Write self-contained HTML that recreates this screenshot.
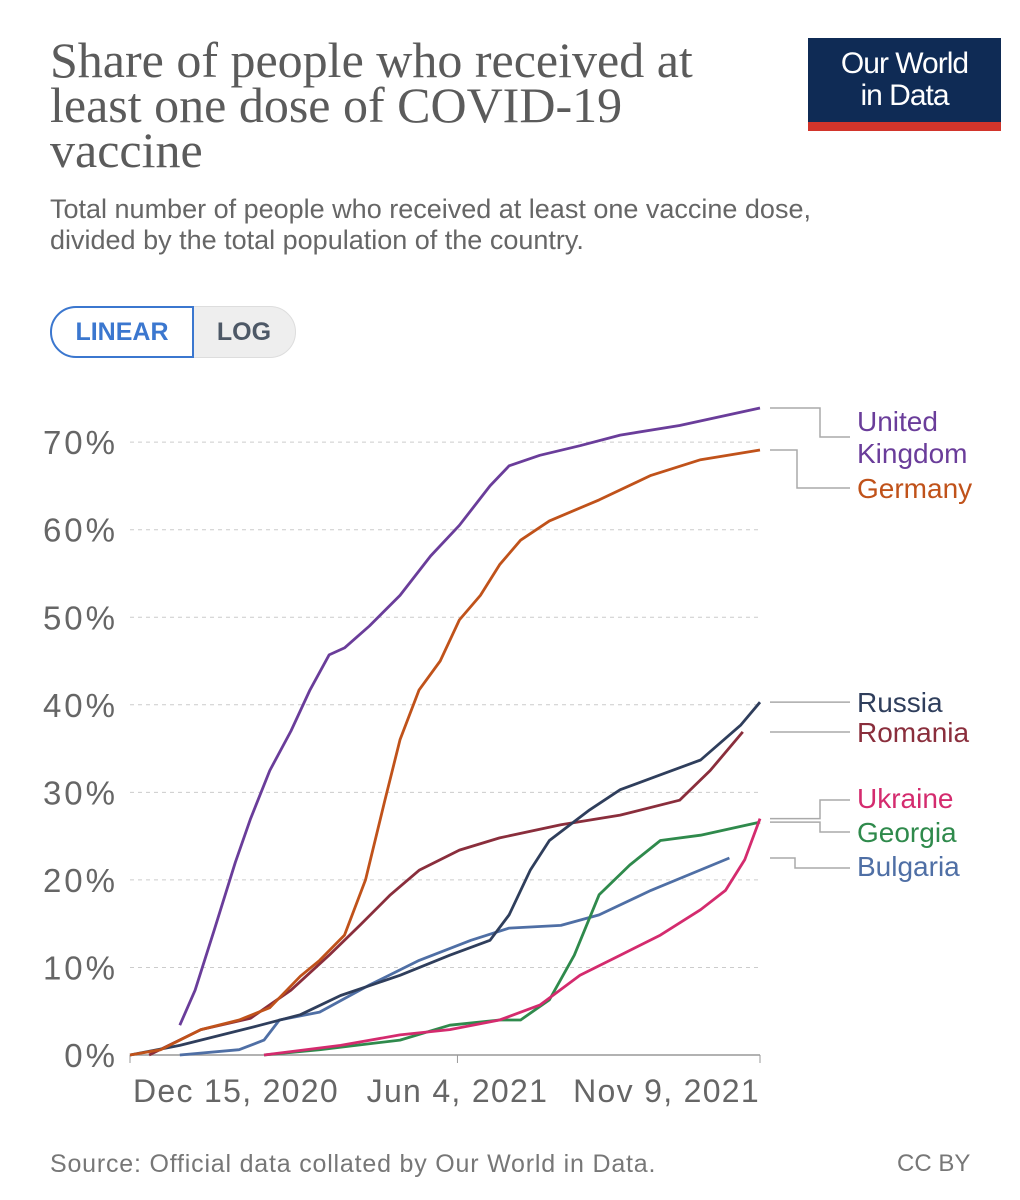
<!DOCTYPE html>
<html><head><meta charset="utf-8">
<style>
body{margin:0;background:#fff;width:1020px;height:1200px;overflow:hidden;font-family:"Liberation Sans",sans-serif;}
.t{position:absolute;}
</style></head>
<body>
<div class="t" style="left:50px;top:38px;width:740px;font-family:'Liberation Serif',serif;font-size:50px;line-height:45px;color:#5b5b5b;">Share of people who received at<br>least one dose of COVID-19<br>vaccine</div>
<div class="t" style="left:50px;top:194px;width:960px;font-size:27px;line-height:31px;color:#666;">Total number of people who received at least one vaccine dose,<br>divided by the total population of the country.</div>
<div class="t" style="left:808px;top:38px;width:193px;height:93px;background:#0f2b55;border-bottom:9px solid #d2352b;box-sizing:border-box;color:#fff;font-size:30px;line-height:32px;text-align:center;padding-top:10px;letter-spacing:-1px;">Our World<br>in Data</div>
<div class="t" style="left:50px;top:306px;width:246px;height:52px;border-radius:26px;background:#eee;border:1px solid #ddd;box-sizing:border-box;"></div>
<div class="t" style="left:50px;top:306px;width:144px;height:52px;border-radius:26px 0 0 26px;border:2px solid #3b77cf;box-sizing:border-box;background:#fff;color:#3b77cf;font-weight:bold;font-size:25px;line-height:48px;text-align:center;">LINEAR</div>
<div class="t" style="left:194px;top:306px;width:100px;height:52px;color:#4d5866;font-weight:bold;font-size:25px;line-height:52px;text-align:center;">LOG</div>

<svg class="t" style="left:0;top:0" width="1020" height="1200" id="chart"></svg>

<div class="t" style="left:50px;top:1150px;font-size:25px;letter-spacing:0.8px;color:#777;">Source: Official data collated by Our World in Data.</div>
<div class="t" style="left:897px;top:1150px;font-size:24px;color:#777;">CC BY</div>

<script>
const yTicks=[0,10,20,30,40,50,60,70];
const xTickLabels=["Dec 15, 2020","Jun 4, 2021","Nov 9, 2021"];
const xTickDays=[0,171,329];
const ukDays=[26,34,44,55,63,73,84,94,104,112,125,141,157,172,188,198,214,235,256,287,329];
const ukVals=[3.4,7.4,14.3,22,27,32.5,37,41.7,45.7,46.5,49,52.5,57,60.5,65,67.3,68.5,69.6,70.8,71.9,73.9];
const deDays=[0,16,37,57,73,89,99,112,123,133,141,151,162,172,183,193,204,219,245,272,298,329];
const deVals=[0,0.6,2.9,4,5.4,9,10.8,13.7,20,29,36,41.7,45,49.7,52.5,56,58.8,61,63.4,66.2,68,69.1];
const ruDays=[0,26,68,89,110,141,167,188,198,209,219,240,256,277,298,319,329];
const ruVals=[0,1.1,3.4,4.6,6.8,9.1,11.4,13.1,16,21.1,24.5,28,30.3,32,33.7,37.7,40.3];
const roDays=[10,37,63,84,104,120,136,151,172,193,225,256,287,303,320];
const roVals=[0,2.9,4.2,7.4,11.4,14.8,18.3,21.1,23.4,24.8,26.3,27.4,29.1,32.5,36.9];
const bgDays=[26,57,70,78,99,125,151,178,198,225,245,272,313];
const bgVals=[0,0.6,1.7,4,4.9,8,10.8,13.1,14.5,14.8,16,18.8,22.5];
const geDays=[70,99,141,167,193,204,219,232,245,261,277,298,329];
const geVals=[0,0.6,1.7,3.4,4,4,6.3,11.4,18.3,21.7,24.5,25.1,26.6];
const uaDays=[70,110,141,167,193,214,235,256,277,298,311,321,329];
const uaVals=[0,1.1,2.3,2.9,4,5.7,9.1,11.4,13.7,16.6,18.8,22.3,27];
const seriesNames=["United Kingdom","Germany","Russia","Romania","Bulgaria","Georgia","Ukraine"];

const NS="http://www.w3.org/2000/svg";
const svg=document.getElementById('chart');
const X0=130,X1=760,Y0=1055,PXPCT=8.755,DMAX=329;
const xs=d=>X0+(X1-X0)*d/DMAX;
const ys=v=>Y0-v*PXPCT;
function mk(tag,attrs,parent){const e=document.createElementNS(NS,tag);for(const k in attrs)e.setAttribute(k,attrs[k]);(parent||svg).appendChild(e);return e;}

yTicks.forEach(t=>{
  if(t>0){const g=mk('line',{x1:X0,x2:X1,y1:ys(t),y2:ys(t),stroke:'#ccc','stroke-dasharray':'4,4'});
  
  }
  const tx=mk('text',{x:118,y:ys(t)+12,'text-anchor':'end','font-size':33,'letter-spacing':3,fill:'#666','font-family':'Liberation Sans'});
  tx.textContent=t+'%';
  
  
});
const ax=mk('line',{x1:X0,x2:X1,y1:Y0,y2:Y0,stroke:'#999','stroke-width':1.5});


xTickLabels.forEach((l,i)=>{
  const x=xs(xTickDays[i]);
  const tk=mk('line',{x1:x,x2:x,y1:Y0,y2:Y0+8,stroke:'#999'});
  
  
  const anchor=i===0?'start':(i===xTickLabels.length-1?'end':'middle');
  const tx=mk('text',{x:i===0?x+3:x,y:Y0+47,'text-anchor':anchor,'font-size':32,'letter-spacing':1.3,fill:'#666','font-family':'Liberation Sans'});
  tx.textContent=l;
  
  
});

const series=[
 {d:bgDays,v:bgVals,c:'#4f6fa5',n:'bulgaria'},
 {d:geDays,v:geVals,c:'#2f8a4c',n:'georgia'},
 {d:uaDays,v:uaVals,c:'#d42b6e',n:'ukraine'},
 {d:roDays,v:roVals,c:'#8a2e3c',n:'romania'},
 {d:ruDays,v:ruVals,c:'#2f3e5c',n:'russia'},
 {d:deDays,v:deVals,c:'#c0521a',n:'germany'},
 {d:ukDays,v:ukVals,c:'#6a3d9a',n:'united-kingdom'}
];
series.forEach(s=>{
  const p=s.d.map((d,i)=>(i?'L':'M')+xs(d).toFixed(1)+','+ys(s.v[i]).toFixed(1)).join('');
  const path=mk('path',{d:p,fill:'none',stroke:s.c,'stroke-width':2.8,'stroke-linejoin':'round'});
  
  
});

const legend=[
 {n:'United Kingdom',lines:['United','Kingdom'],c:'#6a3d9a',v:ukVals[ukVals.length-1],ly:437,bx:820,ty:431},
 {n:'Germany',lines:['Germany'],c:'#c0521a',v:deVals[deVals.length-1],ly:488,bx:797,ty:498},
 {n:'Russia',lines:['Russia'],c:'#2f3e5c',v:ruVals[ruVals.length-1],ly:702,bx:null,ty:712},
 {n:'Romania',lines:['Romania'],c:'#8a2e3c',v:roVals[roVals.length-1],ly:732,bx:null,ty:742},
 {n:'Ukraine',lines:['Ukraine'],c:'#d42b6e',v:uaVals[uaVals.length-1],ly:800,bx:820,ty:808},
 {n:'Georgia',lines:['Georgia'],c:'#2f8a4c',v:geVals[geVals.length-1],ly:832,bx:820,ty:842},
 {n:'Bulgaria',lines:['Bulgaria'],c:'#4f6fa5',v:bgVals[bgVals.length-1],ly:868,bx:795,ty:876}
];
legend.forEach(l=>{
  const sy=ys(l.v);
  const pts=l.bx?`M770,${sy}L${l.bx},${sy}L${l.bx},${l.ly}L850,${l.ly}`:`M770,${sy}L850,${sy}`;
  const c=mk('path',{d:pts,fill:'none',stroke:'#aaa','stroke-width':1.5});
  
  
  l.lines.forEach((t,i)=>{
    const tx=mk('text',{x:857,y:l.ty+i*32,'font-size':28,fill:l.c,'font-family':'Liberation Sans'});
    tx.textContent=t;
    
    
  });
});
</script>
</body></html>
